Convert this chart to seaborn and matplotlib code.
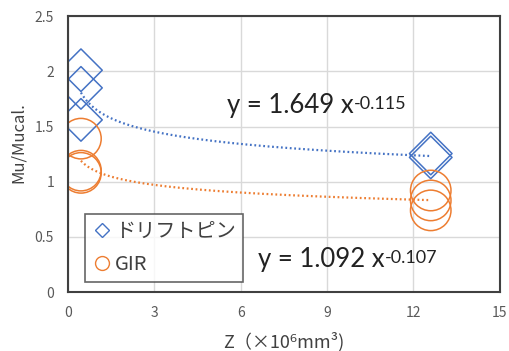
import numpy as np
import pandas as pd
import seaborn as sns
import matplotlib.pyplot as plt
from matplotlib.lines import Line2D

# data
pin_x = [0.45, 0.45, 0.45, 12.6, 12.6]
pin_y = [2.01, 1.85, 1.56, 1.255, 1.22]
gir_x = [0.45, 0.45, 0.45, 12.6, 12.6, 12.6]
gir_y = [1.39, 1.10, 1.08, 0.92, 0.83, 0.74]

series_names = ['ドリフトピン', 'GIR']
fit_a = [1.649, 1.092]
fit_b = [-0.115, -0.107]

x_ticks = [0, 3, 6, 9, 12, 15]
y_ticks = [0, 0.5, 1, 1.5, 2, 2.5]
y_tick_labels = ['0', '0.5', '1', '1.5', '2', '2.5']

blue = '#4472C4'
orange = '#ED7D31'

sns.set_theme(style='whitegrid')
plt.rcParams['font.family'] = ['Noto Sans CJK JP', 'DejaVu Sans']
plt.rcParams['axes.unicode_minus'] = False

df = pd.DataFrame({
    'x': pin_x + gir_x,
    'y': pin_y + gir_y,
    'series': [series_names[0]] * len(pin_x) + [series_names[1]] * len(gir_x),
})

fig = plt.figure(figsize=(5.09, 3.51), dpi=100)
ax = fig.add_axes([0.1336, 0.168, 0.8484, 0.786])

# diamonds and circles drawn separately so each gets its own size
sns.scatterplot(data=df[df.series == series_names[0]], x='x', y='y',
                marker='D', s=470, facecolor='none', edgecolor=blue,
                linewidth=1.1, legend=False, ax=ax)
sns.scatterplot(data=df[df.series == series_names[1]], x='x', y='y',
                marker='o', s=850, facecolor='none', edgecolor=orange,
                linewidth=1.1, legend=False, ax=ax)

# power trendlines
for xs, a, b, col in [(pin_x, fit_a[0], fit_b[0], blue), (gir_x, fit_a[1], fit_b[1], orange)]:
    xx = np.linspace(min(xs), max(xs), 200)
    ax.plot(xx, a * xx ** b, linestyle=(0, (0.8, 1.2)), color=col, linewidth=1.6)

ax.set_xlim(0, 15)
ax.set_ylim(0, 2.5)
ax.set_xticks(x_ticks)
ax.set_yticks(y_ticks)
ax.set_yticklabels(y_tick_labels)
ax.tick_params(axis='both', labelsize=10, colors='#595959', length=0)
ax.tick_params(axis='x', pad=10)
ax.tick_params(axis='y', pad=10)
ax.grid(True, color='#D9D9D9', linewidth=1)
for sp in ax.spines.values():
    sp.set_color('#404040')
    sp.set_linewidth(1.5)

ax.set_xlabel('Z（×10⁶mm³)', fontsize=13, color='#404040')
ax.set_ylabel('Mu/Mucal.', fontsize=12, color='#404040')
ax.xaxis.set_label_coords(0.5, -0.145)
ax.yaxis.set_label_coords(-0.095, 0.54)

for xpos, ypos, a, b in [(5.52, 1.62, fit_a[0], fit_b[0]), (6.6, 0.225, fit_a[1], fit_b[1])]:
    t = ax.text(xpos, ypos, f'y = {a:.3f} x', fontsize=18.5, color='#222222',
                family='Lato', va='baseline')
    ax.annotate(f'{b:.3f}', xy=(1, 0.88), xycoords=t, va='top', ha='left',
                fontsize=13, color='#222222', family='Lato')

handles = [
    Line2D([], [], marker='D', linestyle='none', markersize=7,
           markerfacecolor='none', markeredgecolor=blue),
    Line2D([], [], marker='o', linestyle='none', markersize=10,
           markerfacecolor='none', markeredgecolor=orange),
]
leg = ax.legend(handles, series_names, loc='lower left', bbox_to_anchor=(0.039, 0.036),
                fontsize=14.5, frameon=True, fancybox=False, handletextpad=0.15,
                handlelength=1.0, borderpad=0.35, labelspacing=0.6, borderaxespad=0)
leg.get_frame().set_edgecolor('#404040')
leg.get_frame().set_linewidth(1.2)
for t in leg.get_texts():
    t.set_color('#404040')

fig.savefig('out.png', dpi=100)
